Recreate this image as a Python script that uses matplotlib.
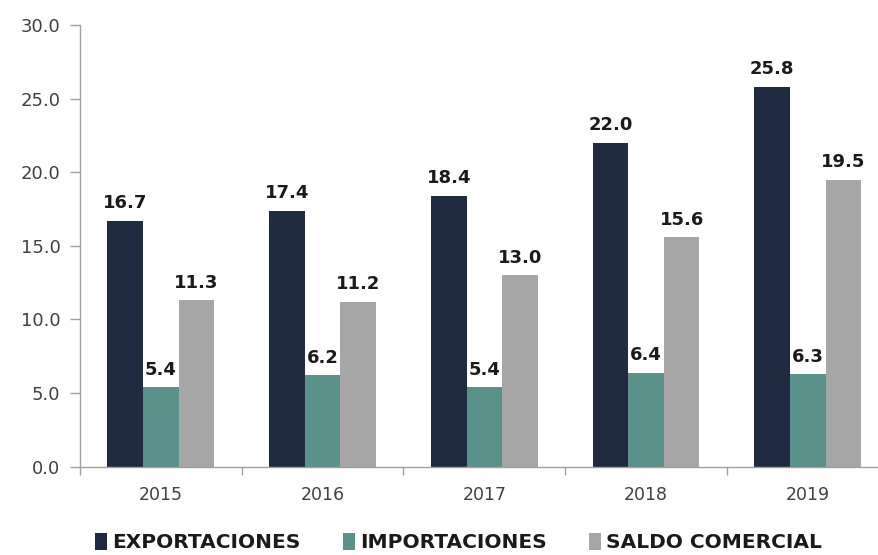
import numpy as np
import matplotlib.pyplot as plt

years = ['2015', '2016', '2017', '2018', '2019']
exportaciones = [16.7, 17.4, 18.4, 22.0, 25.8]
importaciones = [5.4, 6.2, 5.4, 6.4, 6.3]
saldo = [11.3, 11.2, 13.0, 15.6, 19.5]

series = [
    ('EXPORTACIONES', exportaciones, '#202a40'),
    ('IMPORTACIONES', importaciones, '#5a918a'),
    ('SALDO COMERCIAL', saldo, '#a6a6a6'),
]

plt.rcParams['font.family'] = 'DejaVu Sans'

fig = plt.figure(figsize=(8.79, 5.55), dpi=100)
ax = fig.add_axes([0.091, 0.159, 0.920, 0.796])

x = np.arange(len(years))
w = 0.22
for i, (name, vals, col) in enumerate(series):
    pos = x + (i - 1) * w
    bars = ax.bar(pos, vals, width=w, color=col, label=name, zorder=2)
    for b, v in zip(bars, vals):
        ax.annotate(f'{v:.1f}', (b.get_x() + b.get_width() / 2, v),
                    xytext=(0, 6), textcoords='offset points',
                    ha='center', va='bottom', fontsize=13, fontweight='bold',
                    color='#1a1a1a', zorder=3,
                    bbox=dict(boxstyle='square,pad=0.02', fc='white', ec='none'))

ax.set_ylim(0, 30)
ax.set_yticks(np.arange(0, 30.1, 5))
ax.set_yticklabels([f'{t:.1f}' for t in np.arange(0, 30.1, 5)])
ax.set_xlim(-0.5, 4.5)
ax.set_xticks(x)
ax.set_xticklabels(years)
ax.set_xticks(np.arange(-0.5, 4.6, 1), minor=True)
ax.tick_params(axis='x', which='major', length=0, pad=14, labelsize=12.5, labelcolor='#404040')
ax.tick_params(axis='x', which='minor', length=6, color='#a0a0a0', width=1)
ax.tick_params(axis='y', length=7, color='#a0a0a0', width=1, pad=7, labelsize=13, labelcolor='#404040')

for s in ['top', 'right']:
    ax.spines[s].set_visible(False)
for s in ['left', 'bottom']:
    ax.spines[s].set_color('#a0a0a0')
    ax.spines[s].set_linewidth(1)

leg = fig.legend(loc='center', bbox_to_anchor=(0.522, 0.022), ncol=3, frameon=False,
                 handlelength=0.6, handleheight=0.9, handletextpad=0.25, columnspacing=2.1,
                 prop={'weight': 'bold', 'size': 14.5})
for t in leg.get_texts():
    t.set_color('#1a1a1a')

fig.savefig('out.png', dpi=100)
